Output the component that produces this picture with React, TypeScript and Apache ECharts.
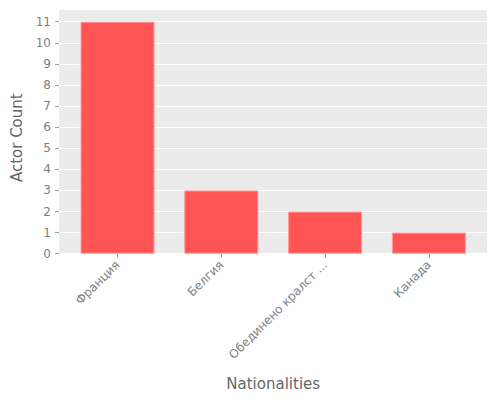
import { useEffect, useRef } from 'react';
import * as echarts from 'echarts';

const categories = ['Франция', 'Белгия', 'Обединено кралст ...', 'Канада'];
const actorCounts = [11, 3, 2, 1];
const yMax = 11;

const FONT = "'DejaVu Sans', sans-serif";
const TITLE = '#666666';
const LABEL = '#808080';

export default function App() {
  const ref = useRef<HTMLDivElement>(null);

  useEffect(() => {
    if (!ref.current) return;
    const chart = echarts.init(ref.current, undefined, { renderer: 'svg' });
    chart.setOption({
      animation: false,
      backgroundColor: '#ffffff',
      textStyle: { fontFamily: FONT },
      grid: [
        // panel background
        { left: 59, top: 10, width: 428, height: 244, show: true, backgroundColor: '#ebebeb', borderWidth: 0, outerBoundsMode: 'none' },
        // full-width value scale (gridlines, y ticks)
        { left: 59, top: 21.7, width: 428, height: 232, outerBoundsMode: 'none' },
        // bars, narrower so the category centres land where the reference has them
        { left: 65.6, top: 21.7, width: 415.2, height: 232, outerBoundsMode: 'none' },
      ],
      xAxis: [
        { gridIndex: 0, type: 'value', min: 0, max: 1, show: false },
        { gridIndex: 1, type: 'value', min: 0, max: 1, show: false },
        {
          gridIndex: 2,
          type: 'category',
          data: categories,
          name: 'Nationalities',
          nameLocation: 'middle',
          nameGap: 123,
          nameTextStyle: { color: TITLE, fontSize: 15, fontFamily: FONT },
          axisLine: { show: false },
          axisTick: { show: true, alignWithLabel: true, length: 4, lineStyle: { color: '#a0a0a0' } },
          axisLabel: { rotate: 45, color: LABEL, fontSize: 12, margin: 9, interval: 0, fontFamily: FONT },
          splitLine: { show: false },
        },
      ],
      yAxis: [
        { gridIndex: 0, type: 'value', min: 0, max: 1, show: false },
        {
          gridIndex: 1,
          type: 'value',
          min: 0,
          max: yMax,
          interval: 1,
          name: 'Actor Count',
          nameLocation: 'middle',
          nameGap: 30,
          nameTextStyle: { color: TITLE, fontSize: 15, fontFamily: FONT },
          axisLine: { show: false },
          axisTick: { show: true, length: 4, lineStyle: { color: '#a0a0a0' } },
          axisLabel: { color: LABEL, fontSize: 12, margin: 8, fontFamily: FONT },
          splitLine: { show: true, lineStyle: { color: '#ffffff', width: 1 } },
        },
        { gridIndex: 2, type: 'value', min: 0, max: yMax, show: false },
      ],
      series: [
        {
          type: 'bar',
          xAxisIndex: 2,
          yAxisIndex: 2,
          data: actorCounts,
          barWidth: 74,
          itemStyle: { color: '#ff5555', borderColor: '#ff9a9a', borderWidth: 1 },
        },
      ],
    });
    return () => chart.dispose();
  }, []);

  return <div ref={ref} style={{ position: 'absolute', left: 0, top: 0, width: 500, height: 400 }} />;
}
